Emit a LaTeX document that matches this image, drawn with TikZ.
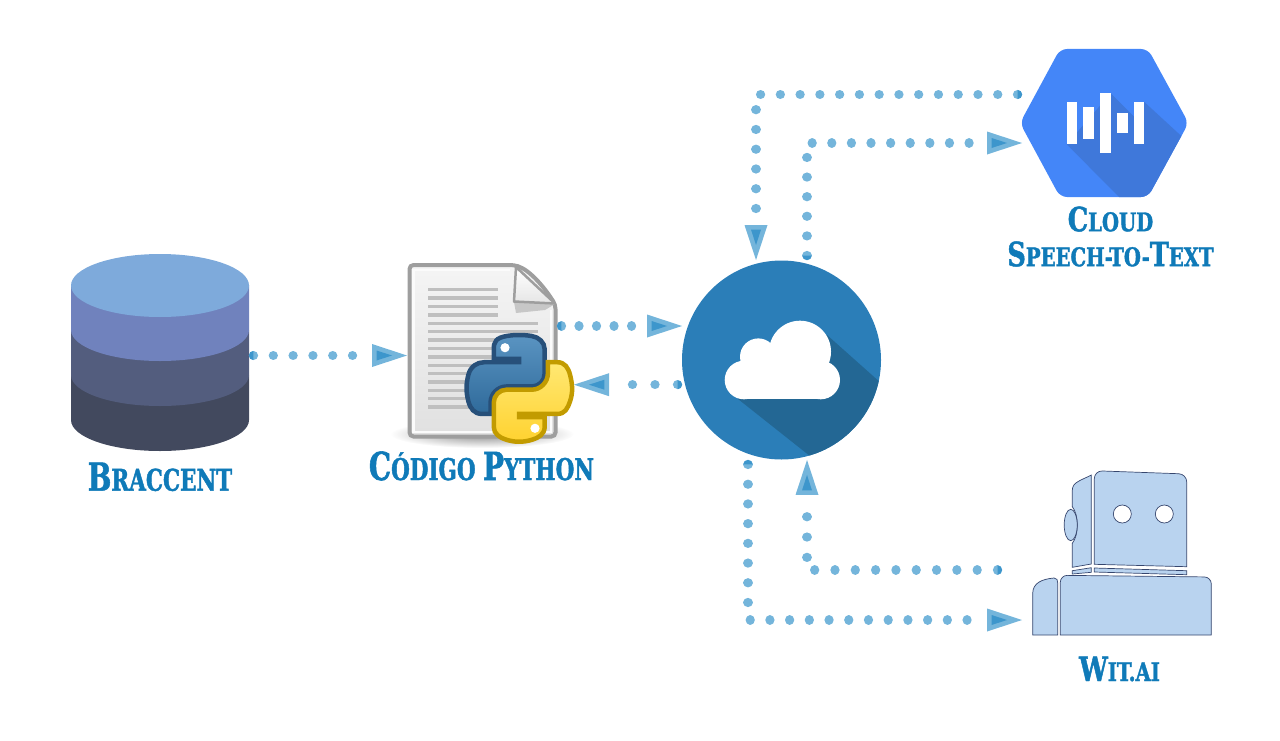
\documentclass[tikz,border=0pt]{standalone}
\usepackage{fontspec}
\usepackage{tikz}
\usetikzlibrary{decorations.markings,svg.path}
\newfontfamily\lblfamily{DejaVu Serif Condensed}[FakeStretch=0.80,FakeBold=1.4]
\newfontfamily\lblfamilyb{DejaVu Serif Condensed}[FakeStretch=0.85,FakeBold=1.4]
\newcommand{\lblword}[2]{{\fontsize{22}{24}\selectfont #1}\MakeUppercase{#2}}
\newcommand{\lblwordb}[2]{{\fontsize{19}{20}\selectfont #1}\MakeUppercase{#2}}
\definecolor{flowlight}{HTML}{74B5DB}
\definecolor{flowdark}{HTML}{3D96CC}
\definecolor{lbltext}{HTML}{0F7AB8}
\definecolor{botfill}{HTML}{B9D3EF}
\definecolor{botline}{HTML}{36466E}
\definecolor{dbtop}{HTML}{7EAADB}
\definecolor{dbone}{HTML}{7082BD}
\definecolor{dbtwo}{HTML}{535D7E}
\definecolor{dbthree}{HTML}{42495E}
\definecolor{cloudblue}{HTML}{2B7EB8}
\definecolor{cloudshade}{HTML}{236794}
\definecolor{hexblue}{HTML}{4486F8}
\definecolor{hexshade}{HTML}{3F78DA}
\definecolor{pyblueline}{HTML}{27507A}
\definecolor{pybluetop}{HTML}{5A94C2}
\definecolor{pybluelow}{HTML}{2F6A9A}
\definecolor{pyyelline}{HTML}{C29B00}
\definecolor{pyyeltop}{HTML}{FFE873}
\definecolor{pyyellow}{HTML}{FFD22F}
\tikzset{
	icon/.style={minimum width=#1,inner sep=0pt,outer sep=0pt},
	lbl/.style={font=\lblfamily\bfseries\fontsize{17}{19.9}\selectfont,text=lbltext,inner sep=0pt,align=center},
	lblb/.style={font=\lblfamilyb\bfseries\fontsize{14.6}{19.9}\selectfont,text=lbltext,inner sep=0pt,align=center},
	flow/.style={draw=flowlight,line width=.185cm,line cap=round,dash pattern=on 0.01pt off #1,
		shorten <=.09cm,shorten >=.88cm,
		decoration={markings,
			mark=at position 0 with {\fill[flowdark] (4.5,-4.6) arc[start angle=-90,end angle=-270,radius=4.6] -- cycle;},
			mark=at position 1 with {
				\fill[flowlight] (0,0) -- (-35,-11.5) -- (-35,11.5) -- cycle;
				\fill[flowdark] (-15,0) -- (-30.5,-5) -- (-30.5,5) -- cycle;}},
		postaction=decorate},
	bot/.style={fill=botfill,draw=botline,line width=.4pt},
	txtline/.style={draw=black!25,line width=.07cm},
}
\begin{document}
\begin{tikzpicture}[x=0.02cm,y=-0.02cm]
\useasboundingbox (0,0) rectangle (1280,740);
	% nodes the connectors run between
	\node[icon=3.56cm,minimum height=3.96cm] (db) at (160,352) {};
	\node[icon=3cm,minimum height=3.5cm] (code) at (482,351) {};
	\node[icon=2.16cm,minimum height=2.2cm] (py) at (520,388) {};
	\node[icon=3.98cm,minimum height=4cm] (cloud) at (781.5,360) {};
	\node[icon=3.3cm,minimum height=2.96cm] (stt) at (1104.5,123) {};
	\node[icon=3.58cm,minimum height=3.3cm] (wit) at (1122,553) {};
	% database
	\fill[dbthree] (71,420) arc[start angle=180,end angle=0,x radius=89,y radius=31] -- (249,375) -- (71,375) -- cycle;
	\fill[dbtwo] (71,375) arc[start angle=180,end angle=0,x radius=89,y radius=31] -- (249,330) -- (71,330) -- cycle;
	\fill[dbone] (71,330) arc[start angle=180,end angle=0,x radius=89,y radius=31] -- (249,285) -- (71,285) -- cycle;
	\fill[dbtop] (160,285.5) ellipse[x radius=89,y radius=31.5];
	% page
	\shade[inner color=black!45,outer color=white] (482,434) ellipse[x radius=92,y radius=14];
	\draw[draw=black!38,line width=.08cm,top color=black!4,bottom color=black!12,rounded corners=.08cm]
		(409.5,265) -- (514,265) .. controls (530,270) and (545,288) .. (555.5,305) -- (555.5,436.5) -- (409.5,436.5) -- cycle;
	\draw[draw=white!70!black!5,line width=.05cm] (413.5,306) -- (413.5,432) -- (551,432) -- (551,310);
	\draw[draw=white!70!black!5,line width=.05cm] (413.5,306) -- (413.5,270) -- (510,270);
	\foreach \yy in {289.3,298,306.5,315} \draw[txtline] (428,\yy) -- (498,\yy);
	\foreach \yy in {323.3,331.5,340,348.3,357,365.3,373.7,382,390.3,398.7,407} \draw[txtline] (428,\yy) -- (538,\yy);
	\fill[black!22] (514,302) -- (555,304) -- (545,310) -- (516,313) -- cycle;
	\draw[draw=black!38,line width=.05cm,top color=white,bottom color=black!10,line join=round]
		(516,267) -- (555,303.5) -- (514,301.5) -- cycle;
	% python logo
	\begin{scope}[shift={(466.5,335)},x=1pt,y=1pt,scale=.5406,yscale=-1]
		\draw[draw=pyblueline,line width=.09cm,top color=pybluetop,bottom color=pybluelow]
			svg {M 54.918785,0 C 50.335132,0.02221727 45.957846,0.41313697 42.106285,1.0946693 30.760069,3.0991731 28.700036,7.2947714 28.700035,15.032169 v 10.21875 h 26.8125 v 3.40625 h -26.8125 -10.0625 c -7.792459,0 -14.6157588,4.683717 -16.7499998,13.59375 -2.46181998,10.212966 -2.57101508,16.586023 0,27.25 1.9059283,7.937852 6.4575432,13.593748 14.2499998,13.59375 h 9.21875 v -12.25 c 0,-8.849902 7.657144,-16.656248 16.75,-16.65625 h 26.78125 c 7.454951,0 13.406253,-6.138164 13.40625,-13.625 v -25.53125 c 0,-7.2663386 -6.12998,-12.7247771 -13.40625,-13.9374997 C 64.281548,0.32794397 59.502438,-0.02037903 54.918785,0 Z};
		\draw[draw=pyyelline,line width=.09cm,top color=pyyeltop,bottom color=pyyellow]
			svg {M 85.637535,28.657169 v 11.90625 c 0,9.230755 -7.825895,16.999999 -16.75,17 h -26.78125 c -7.335833,0 -13.406249,6.278483 -13.40625,13.625 v 25.531247 c 0,7.266344 6.318588,11.540324 13.40625,13.625004 8.487331,2.49561 16.626237,2.94663 26.78125,0 6.750155,-1.95439 13.406253,-5.88761 13.40625,-13.625004 V 86.500919 h -26.78125 v -3.40625 h 26.78125 13.406254 c 7.792461,0 10.696251,-5.435408 13.406241,-13.59375 2.79933,-8.398886 2.74022,-16.475776 0,-27.25 -1.92578,-7.757441 -5.60387,-13.59375 -13.406241,-13.59375 Z};
	\end{scope}
	\fill[white] (505,347.7) circle[radius=4.6];
	\fill[white] (535,428.3) circle[radius=4.6];
	% cloud
	\fill[cloudblue] (781.5,360) circle[radius=99.5];
	\begin{scope}
		\clip (781.5,360) circle[radius=99.5];
		\fill[cloudshade] (738,399) -- (820,464) -- (900,464) -- (900,400) -- (827,335) -- (780,360) -- cycle;
	\end{scope}
	\foreach \xx/\yy/\rr in {744/380/19.3,820.7/380/19.3,758.3/356.7/18.3,800/351.7/31}
		\fill[white] (\xx,\yy) circle[radius=\rr];
	\fill[white] (744,365) rectangle (820.7,399.3);
	% hexagon
	\fill[hexblue,rounded corners=.14cm] (1060,49) -- (1148,49) -- (1188.5,123) -- (1148,197) -- (1060,197) -- (1020,123) -- cycle;
	\begin{scope}
		\clip[rounded corners=.14cm] (1060,49) -- (1148,49) -- (1188.5,123) -- (1148,197) -- (1060,197) -- (1020,123) -- cycle;
		\fill[hexshade] (1066.7,144.3) -- (1119,197) -- (1150,197) -- (1182.7,137.3) -- (1144.3,102) -- (1134,116.7) -- (1110.7,93.3) -- cycle;
	\end{scope}
	\foreach \xa/\xb/\ya/\yb in {1066.7/1077/102/144.3,1083.3/1093.7/107.3/138.7,1100/1110.7/93.3/153,1117.3/1127.7/113/133.3,1134/1144.3/102/144.3}
		\fill[white] (\xa,\ya) rectangle (\xb,\yb);
	% robot
	\draw[bot] (1094.3,564.3) [rounded corners=.16cm] -- (1094.3,470.7) -- (1186.7,474) -- (1186.7,500) [sharp corners] -- (1186.7,566.7) -- cycle;
	\draw[bot] (1091.3,475) .. controls (1082,480) and (1072.3,482) .. (1072.3,490) -- (1072.3,506.7) .. controls (1079,515) and (1079,535) .. (1072.3,543.3) -- (1072.3,567.3) -- (1091.3,564) -- cycle;
	\draw[bot] (1070.7,525) ellipse[x radius=6.5,y radius=15.7];
	\draw[bot,fill=white] (1122.3,514) circle[radius=9];
	\draw[bot,fill=white] (1164.3,514) circle[radius=9];
	\draw[bot] (1072.3,570.7) -- (1091.3,567.7) -- (1091.3,572.3) -- (1072.3,574) -- cycle;
	\draw[bot] (1094.3,568) -- (1186.7,570.7) -- (1186.7,574.7) -- (1094.3,572) -- cycle;
	\draw[bot] (1060.3,635) [rounded corners=.14cm] -- (1060.3,575.3) -- (1211.3,577) -- (1211.3,600) [sharp corners] -- (1211.3,635) -- cycle;
	\draw[bot] (1032.7,635) -- (1032.7,593) .. controls (1033,583) and (1042,579) .. (1054,578) .. controls (1057,578) and (1057.7,580) .. (1057.7,583) -- (1057.7,635) -- cycle;
	% labels
	\node[lbl,anchor=base] (lbldb) at (160,490.7) {\lblword{B}{raccent}};
	\node[lbl,anchor=base] (lblcode) at (481.5,480) {\lblword{C}{ódigo} \lblword{P}{ython}};
	\node[lblb,anchor=south] (lblstt) at (1110.5,267) {\lblwordb{C}{loud}\\\lblwordb{S}{peech-to-}\lblwordb{T}{ext}};
	\node[lblb,anchor=base] (lblwit) at (1119.5,681) {\lblwordb{W}{it.ai}};
	% routing points
	\coordinate (ra) at (0,355.5);
	\coordinate (rb) at (0,326);
	\coordinate (rc) at (0,384.7);
	\coordinate (rd) at (756,94.5);
	\coordinate (re) at (807,143);
	\coordinate (rf) at (807,570);
	\coordinate (rg) at (748,620);
	\coordinate (witout) at (1002,570);
	\coordinate (witin) at (1022,620);
	% connectors
	\draw[flow=.396cm] (db.east |- ra) -- (code.west |- ra);
	\draw[flow=.35cm] (code.east |- rb) -- (cloud.west |- rb);
	\draw[flow=.45cm] (cloud.west |- rc) -- (py.east |- rc);
	\draw[flow=.395cm] (stt.west |- rd) -- (rd) -- (rd |- cloud.north);
	\draw[flow=.392cm] (re |- cloud.north) -- (re) -- (stt.west |- re);
	\draw[flow=.406cm] (witout) -- (rf) -- (rf |- cloud.south);
	\draw[flow=.394cm] (rg |- cloud.south) -- (rg) -- (witin);
\end{tikzpicture}
\end{document}
